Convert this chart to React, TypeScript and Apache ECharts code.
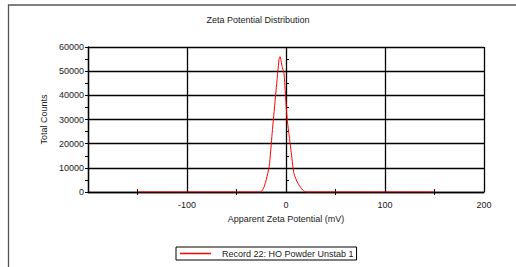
import React, { useEffect, useRef } from "react";
import * as echarts from "echarts";

const zetaMv: number[] = [-150, -26, -22, -17, -14, -10, -7, -6, -4, -2, 1, 5, 8, 12, 17, 20, 150];
const totalCounts: number[] = [0, 0, 2200, 10500, 24300, 42200, 55000, 56000, 52000, 49000, 31000, 17400, 7700, 3600, 800, 0, 0];
const xTicks: number[] = [-200, -100, 0, 100, 200];
const yTicks: number[] = [0, 10000, 20000, 30000, 40000, 50000, 60000];

const FONT = "Liberation Sans, Arial, sans-serif";
const TXT = "#1a1a1a";

export default function App() {
  const ref = useRef<HTMLDivElement>(null);
  useEffect(() => {
    if (!ref.current) return;
    const chart = echarts.init(ref.current, undefined, { renderer: "svg" });
    const data = zetaMv.map((x, i) => [x, totalCounts[i]]);
    const xMin = xTicks[0];
    const xMax = xTicks[xTicks.length - 1];
    const yMin = yTicks[0];
    const yMax = yTicks[yTicks.length - 1];
    chart.setOption({
      animation: false,
      backgroundColor: "#ffffff",
      textStyle: { fontFamily: FONT },
      title: {
        text: "Zeta Potential Distribution",
        left: "center",
        top: 10,
        textStyle: { fontSize: 9, fontWeight: "normal", color: TXT, fontFamily: FONT },
      },
      graphic: [
        {
          type: "rect",
          shape: { x: 8.5, y: 5, width: 560, height: 300 },
          style: { fill: "none", stroke: "#555", lineWidth: 1.3 },
          silent: true,
          z: -1,
        },
      ],
      legend: {
        left: 176,
        top: 247,
        padding: [2, 3, 2, 4],
        borderColor: "#000",
        borderWidth: 1,
        icon: "rect",
        itemWidth: 31,
        itemHeight: 1.5,
        textStyle: { fontSize: 9, color: TXT, fontFamily: FONT, padding: [0, 0, 0, 6] },
        data: ["Record 22: HO Powder Unstab 1"],
      },
      grid: { left: 88, top: 47, right: 32, bottom: 75 },
      xAxis: [
        {
          type: "value",
          min: xMin,
          max: xMax,
          interval: 100,
          name: "Apparent Zeta Potential (mV)",
          nameLocation: "middle",
          nameGap: 22,
          nameTextStyle: { fontSize: 9, color: TXT, fontFamily: FONT },
          axisLine: { show: true, onZero: false, lineStyle: { color: "#000", width: 1.3 } },
          axisTick: { show: false },
          minorTick: { show: true, splitNumber: 2, length: 3, lineStyle: { color: "#000", width: 1 } },
          splitLine: { show: true, lineStyle: { color: "#000", width: 1.3 } },
          axisLabel: {
            fontSize: 9,
            color: TXT,
            margin: 8,
            fontFamily: FONT,
            formatter: (v: number) => (v === xMin ? "" : String(v)),
          },
        },
        {
          type: "value",
          min: xMin,
          max: xMax,
          interval: 100,
          position: "bottom",
          axisLine: { show: false },
          axisTick: { show: false, inside: true },
          minorTick: { show: true, splitNumber: 2, length: 3, lineStyle: { color: "#000", width: 1 } },
          splitLine: { show: false },
          axisLabel: { show: false },
        },
      ],
      yAxis: [
        {
          type: "value",
          min: yMin,
          max: yMax,
          interval: 10000,
          name: "Total Counts",
          nameLocation: "middle",
          nameGap: 25,
          nameTextStyle: { fontSize: 9, color: TXT, fontFamily: FONT },
          axisLine: { show: true, onZero: false, lineStyle: { color: "#000", width: 1.3 } },
          axisTick: { show: true, length: 3, lineStyle: { color: "#000", width: 1 } },
          minorTick: { show: true, splitNumber: 2, length: 3, lineStyle: { color: "#000", width: 1 } },
          splitLine: { show: true, lineStyle: { color: "#000", width: 1.3 } },
          axisLabel: { fontSize: 9, color: TXT, margin: 4, fontFamily: FONT, formatter: (v: number) => String(v) },
        },
        {
          type: "value",
          min: yMin,
          max: yMax,
          interval: 10000,
          position: "left",
          axisLine: { show: false },
          axisTick: { show: false, inside: true },
          minorTick: { show: true, splitNumber: 2, length: 3, lineStyle: { color: "#000", width: 1 } },
          splitLine: { show: false },
          axisLabel: { show: false },
        },
      ],
      series: [
        {
          name: "Record 22: HO Powder Unstab 1",
          type: "line",
          data,
          symbol: "none",
          smooth: 0.2,
          lineStyle: { color: "#ff0000", width: 1 },
          itemStyle: { color: "#ff0000" },
          z: 5,
        },
      ],
    });
    return () => chart.dispose();
  }, []);
  return (
    <div
      ref={ref}
      style={{ position: "fixed", left: 0, top: 0, width: 516, height: 267 }}
    />
  );
}
